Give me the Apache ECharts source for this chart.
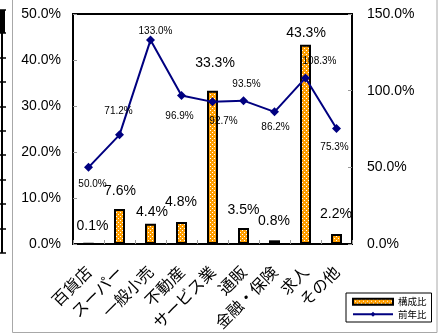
<!DOCTYPE html>
<html><head><meta charset="utf-8">
<script src="https://cdn.jsdelivr.net/npm/echarts@6/dist/echarts.min.js"></script>
<style>html,body{margin:0;padding:0;background:#fff}#c{width:444px;height:334px}</style>
</head><body><div id="c"></div>
<script>
// ---- data ----
const categories = ['百貨店','スーパー','一般小売','不動産','サービス業','通販','金融・保険','求人','その他'];
const shareValues = [0.1, 7.6, 4.4, 4.8, 33.3, 3.5, 0.8, 43.3, 2.2];      // 構成比 (%)
const yoyValues   = [50.0, 71.2, 133.0, 96.9, 92.7, 93.5, 86.2, 108.3, 75.3]; // 前年比 (%)
const leftAxisTicks  = [0, 10, 20, 30, 40, 50];
const rightAxisTicks = [0, 50, 100, 150];

// ---- label styling (not data) ----
const barLabelDist = [9.5, 10.5, 4.5, 12.5, 21, 11, 12, 5, 13];
const barLabelDx   = [4, 0.5, 1.5, -0.5, 2.5, 0, -0.5, 0.5, -0.5];
const lineLabelPos = ['bottom','top','top','bottom','bottom','top','bottom','top','bottom'];
const lineLabelOff = [[4,2],[-1,-9],[5,6],[-2,6],[11,5],[3,-2],[1,1],[14,-2],[-2,4]];

function makePattern(){
  const c = document.createElement('canvas'); c.width = 4; c.height = 4;
  const g = c.getContext('2d');
  g.fillStyle = '#FF9E00'; g.fillRect(0,0,4,4);
  g.fillStyle = '#FFFFFF'; g.fillRect(0,0,1,1); g.fillRect(2,2,1,1);
  return c;
}
const pattern = {image: makePattern(), repeat: 'repeat'};

const chart = echarts.init(document.getElementById('c'), null, {renderer:'canvas'});
const pct = v => v.toFixed(1) + '%';

const artifactTicks = [10, 33, 58, 82, 107, 131, 155, 180, 204, 229, 253];
const graphics = [
  {type:'rect', shape:{x:12.5, y:-10, width:424.5, height:342.5}, style:{fill:null, stroke:'#a8a8a8', lineWidth:1}, silent:true, z:-1},
  {type:'rect', shape:{x:0, y:10, width:5, height:23}, style:{fill:'#000'}, silent:true},
  {type:'line', shape:{x1:2, y1:10, x2:2, y2:253}, style:{stroke:'#000', lineWidth:2}, silent:true}
].concat(artifactTicks.map(y => ({type:'line', shape:{x1:0, y1:y, x2:6, y2:y}, style:{stroke:'#000', lineWidth:1.5}, silent:true})));

chart.setOption({
  animation: false,
  backgroundColor: '#fff',
  graphic: graphics,
  grid: {left:73, top:14, right:92, bottom:90, show:true, borderColor:'#000', borderWidth:2, backgroundColor:'transparent'},
  legend: {
    orient:'vertical', left:346, top:293,
    padding:[4,5,3,6], itemGap:3, itemWidth:40, itemHeight:6,
    backgroundColor:'#fff', borderColor:'#000', borderWidth:1,
    textStyle:{fontSize:9.5, color:'#000', fontFamily:'Noto Sans CJK JP'},
    data:[{name:'構成比', icon:'rect'}, {name:'前年比'}]
  },
  xAxis: {
    type:'category', data:categories,
    axisLine:{show:false},
    axisTick:{show:true, inside:true, length:4, lineStyle:{color:'#999'}},
    axisLabel:{rotate:45, margin:25, fontSize:16, color:'#000', fontFamily:'Noto Sans CJK JP', interval:0}
  },
  yAxis: [
    {type:'value', min:leftAxisTicks[0], max:leftAxisTicks[leftAxisTicks.length-1], interval:10,
     axisLine:{show:false}, splitLine:{show:false},
     axisTick:{show:true, inside:true, length:4, lineStyle:{color:'#999'}},
     axisLabel:{formatter:pct, fontSize:14, color:'#000', fontFamily:'Liberation Sans', margin:12}},
    {type:'value', min:rightAxisTicks[0], max:rightAxisTicks[rightAxisTicks.length-1], interval:50,
     axisLine:{show:false}, splitLine:{show:false},
     axisTick:{show:true, inside:true, length:4, lineStyle:{color:'#999'}},
     axisLabel:{formatter:pct, fontSize:14, color:'#000', fontFamily:'Liberation Sans', margin:15}}
  ],
  series: [
    {name:'構成比', type:'bar', yAxisIndex:0, barWidth:11,
     itemStyle:{color:pattern, borderColor:'#000', borderWidth:2},
     data: shareValues.map((v,i) => ({value:v, label:{show:true, position:'top', distance:barLabelDist[i], offset:[barLabelDx[i],0]}})),
     label:{show:true, formatter:p => pct(p.value), fontSize:14, color:'#000', fontFamily:'Liberation Sans'},
     z:2},
    {name:'前年比', type:'line', yAxisIndex:1,
     symbol:'diamond', symbolSize:9,
     lineStyle:{color:'#000080', width:2}, itemStyle:{color:'#000080'},
     data: yoyValues.map((v,i) => ({value:v, label:{show:true, position:lineLabelPos[i], distance:5, offset:lineLabelOff[i]}})),
     label:{show:true, formatter:p => pct(p.value), fontSize:10, color:'#000', fontFamily:'Liberation Sans'},
     z:3}
  ]
});
</script></body></html>
